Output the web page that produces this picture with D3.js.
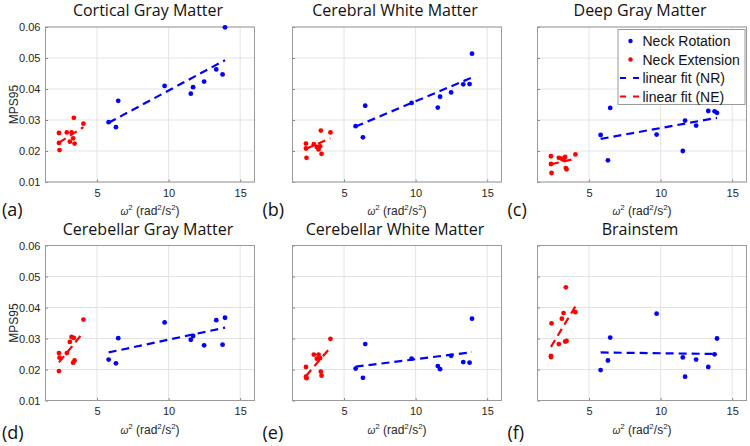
<!DOCTYPE html>
<html><head><meta charset="utf-8">
<script src="https://cdn.jsdelivr.net/npm/d3@7"></script>
<style>body{margin:0;background:#fff}svg{display:block}</style>
</head><body>
<svg id="c" width="750" height="446"></svg>
<script>
// ---- data ----
const panelTitles = ["Cortical Gray Matter","Cerebral White Matter","Deep Gray Matter","Cerebellar Gray Matter","Cerebellar White Matter","Brainstem"];
const panelLetters = ["(a)","(b)","(c)","(d)","(e)","(f)"];
const xNR = [5.81, 6.32, 6.48, 9.72, 11.55, 11.71, 12.48, 13.33, 13.77, 13.94];
const xNE = [2.34, 2.34, 2.38, 2.89, 3.10, 3.22, 3.33, 3.38, 3.43, 4.05];
const yNR_a = [0.0293, 0.0277, 0.0362, 0.0410, 0.0385, 0.0406, 0.0424, 0.0463, 0.0447, 0.0599];
const yNE_a = [0.0258, 0.0226, 0.0203, 0.0260, 0.0230, 0.0260, 0.0241, 0.0307, 0.0224, 0.0288];
const yNR_b = [0.0280, 0.0244, 0.0346, 0.0355, 0.0340, 0.0375, 0.0389, 0.0415, 0.0416, 0.0514];
const yNE_b = [0.0224, 0.0208, 0.0178, 0.0222, 0.0213, 0.0205, 0.0215, 0.0266, 0.0191, 0.0260];
const yNR_c = [0.0252, 0.0170, 0.0339, 0.0253, 0.0200, 0.0298, 0.0282, 0.0329, 0.0328, 0.0323];
const yNE_c = [0.0183, 0.0158, 0.0129, 0.0178, 0.0175, 0.0172, 0.0181, 0.0145, 0.0141, 0.0189];
const yNR_d = [0.0232, 0.0220, 0.0301, 0.0352, 0.0296, 0.0308, 0.0278, 0.0359, 0.0280, 0.0367];
const yNE_d = [0.0253, 0.0195, 0.0238, 0.0253, 0.0289, 0.0305, 0.0222, 0.0302, 0.0229, 0.0361];
const yNR_e = [0.0203, 0.0173, 0.0282, 0.0235, 0.0211, 0.0201, 0.0244, 0.0224, 0.0222, 0.0364];
const yNE_e = [0.0208, 0.0177, 0.0172, 0.0248, 0.0235, 0.0248, 0.0237, 0.0193, 0.0180, 0.0299];
const yNR_f = [0.0198, 0.0229, 0.0303, 0.0380, 0.0239, 0.0177, 0.0232, 0.0208, 0.0249, 0.0300];
const yNE_f = [0.0240, 0.0244, 0.0349, 0.0282, 0.0364, 0.0382, 0.0290, 0.0465, 0.0292, 0.0385];
// linear fit end values (y at first and last x of each group)
const fitNR = [[0.0291,0.0493],[0.0279,0.0437],[0.0239,0.0307],[0.0255,0.0335],[0.0209,0.0256],[0.0255,0.0250]];
const fitNE = [[0.0227,0.0277],[0.0207,0.0241],[0.0157,0.0175],[0.0223,0.0320],[0.0179,0.0271],[0.0273,0.0404]];
const fitNRx = [5.81, 13.94];
const fitNEx = [2.34, 4.05];
const xTicks = [5, 10, 15];
const yTicks = [0.01, 0.02, 0.03, 0.04, 0.05, 0.06];
const legendLabels = ["Neck Rotation","Neck Extension","linear fit (NR)","linear fit (NE)"];
const yNR = [yNR_a,yNR_b,yNR_c,yNR_d,yNR_e,yNR_f];
const yNE = [yNE_a,yNE_b,yNE_c,yNE_d,yNE_e,yNE_f];

// ---- layout ----
const svg = d3.select("#c");
const colLeft = [45.5, 292.5, 537.5], pw = 209;
const rowTop = [27, 245.5], ph = 155;
const BLUE = "#0000ff", RED = "#ff0000";
const tickFont = "Liberation Sans, Arial, sans-serif";
const titleFont = "Open Sans, sans-serif";

panelTitles.forEach((title, i) => {
  const col = i % 3, row = Math.floor(i / 3);
  const x0 = colLeft[col], y0 = rowTop[row];
  const g = svg.append("g").attr("transform", `translate(${x0},${y0})`);
  const x = d3.scaleLinear().domain([1.4, 16]).range([0, pw]);
  const y = d3.scaleLinear().domain([0.01, 0.06]).range([ph, 0]);

  g.append("rect").attr("width", pw).attr("height", ph).attr("fill", "#fff");
  // grid
  g.selectAll(".gx").data(xTicks).join("line").attr("x1", d => x(d)).attr("x2", d => x(d))
    .attr("y1", 0).attr("y2", ph).attr("stroke", "#e3e3e3").attr("stroke-width", 1);
  g.selectAll(".gy").data(yTicks).join("line").attr("y1", d => y(d)).attr("y2", d => y(d))
    .attr("x1", 0).attr("x2", pw).attr("stroke", "#e3e3e3").attr("stroke-width", 1);

  // axes
  const ax = g.append("g").attr("transform", `translate(0,${ph})`)
    .call(d3.axisBottom(x).tickValues(xTicks).tickSizeInner(-2.5).tickSizeOuter(0).tickPadding(7));
  const ay = g.append("g")
    .call(d3.axisLeft(y).tickValues(yTicks).tickSizeInner(-2.5).tickSizeOuter(0).tickPadding(5)
      .tickFormat(d3.format(".2f")));
  [ax, ay].forEach(a => {
    a.select(".domain").remove();
    a.selectAll("line").attr("stroke", "#888");
    a.selectAll("text").attr("font-family", tickFont).attr("font-size", 11).attr("fill", "#262626");
  });
  if (col !== 0) ay.selectAll("text").remove();
  g.append("rect").attr("width", pw).attr("height", ph).attr("fill", "none")
    .attr("stroke", "#9a9a9a").attr("stroke-width", 1);

  // points
  g.selectAll(".nr").data(xNR.map((v, k) => [v, yNR[i][k]])).join("circle")
    .attr("cx", d => x(d[0])).attr("cy", d => y(d[1])).attr("r", 2.4).attr("fill", BLUE);
  g.selectAll(".ne").data(xNE.map((v, k) => [v, yNE[i][k]])).join("circle")
    .attr("cx", d => x(d[0])).attr("cy", d => y(d[1])).attr("r", 2.4).attr("fill", RED);

  // fits
  const line = d3.line().x(d => x(d[0])).y(d => y(d[1]));
  g.append("path").datum(fitNRx.map((v, k) => [v, fitNR[i][k]])).attr("d", line)
    .attr("stroke", BLUE).attr("stroke-width", 2.2).attr("stroke-dasharray", "8,5").attr("fill", "none");
  g.append("path").datum(fitNEx.map((v, k) => [v, fitNE[i][k]])).attr("d", line)
    .attr("stroke", RED).attr("stroke-width", 2.2).attr("stroke-dasharray", "8,5").attr("fill", "none");

  // title
  svg.append("text").attr("x", x0 + pw / 2 - 2).attr("y", y0 - 11).attr("text-anchor", "middle")
    .attr("font-family", titleFont).attr("font-size", 16).attr("fill", "#111").text(title);
  // x label
  const xl = svg.append("text").attr("x", x0 + pw / 2).attr("y", y0 + ph + 33).attr("text-anchor", "middle")
    .attr("font-family", tickFont).attr("font-size", 12).attr("fill", "#262626");
  xl.append("tspan").attr("font-style", "italic").attr("font-size", 10).text("\u03c9");
  xl.append("tspan").attr("font-size", 8).attr("dy", -5).text("2");
  xl.append("tspan").attr("dy", 5).text(" (rad");
  xl.append("tspan").attr("font-size", 8).attr("dy", -5).text("2");
  xl.append("tspan").attr("dy", 5).text("/s");
  xl.append("tspan").attr("font-size", 8).attr("dy", -5).text("2");
  xl.append("tspan").attr("dy", 5).text(")");
  // y label
  if (col === 0) {
    svg.append("text").attr("transform", `translate(${x0 - 28},${y0 + ph / 2}) rotate(-90)`)
      .attr("text-anchor", "middle").attr("font-family", tickFont).attr("font-size", 12)
      .attr("fill", "#262626").text("MPS95");
  }
  // panel letter
  const lx = col === 0 ? 2 : x0 - 30;
  svg.append("text").attr("x", lx).attr("y", y0 + ph + (row === 0 ? 34 : 38))
    .attr("font-family", titleFont).attr("font-size", 18).attr("fill", "#111").text(panelLetters[i]);

  // legend in panel c
  if (i === 2) {
    const lg = svg.append("g").attr("transform", `translate(${x0 + 80.5},${y0 + 2.5})`);
    lg.append("rect").attr("width", 127).attr("height", 75).attr("fill", "#fff").attr("stroke", "#9a9a9a");
    legendLabels.forEach((lab, k) => {
      const cy = 11.5 + k * 18.5;
      if (k < 2) {
        lg.append("circle").attr("cx", 12.5).attr("cy", cy).attr("r", 2.2).attr("fill", k === 0 ? BLUE : RED);
      } else {
        lg.append("line").attr("x1", 2).attr("x2", 22).attr("y1", cy).attr("y2", cy)
          .attr("stroke", k === 2 ? BLUE : RED).attr("stroke-width", 2.2).attr("stroke-dasharray", "6,7");
      }
      lg.append("text").attr("x", 24.5).attr("y", cy + 5).attr("font-family", tickFont)
        .attr("font-size", 14).attr("fill", "#111").text(lab);
    });
  }
});
</script>
</body></html>
